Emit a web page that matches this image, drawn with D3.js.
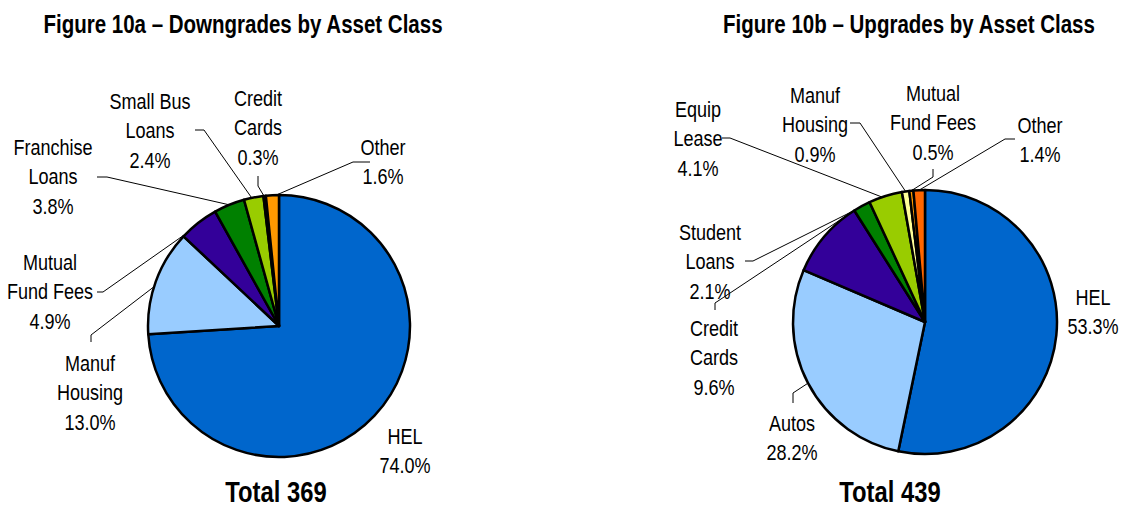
<!DOCTYPE html>
<html>
<head>
<meta charset="utf-8">
<script src="https://cdn.jsdelivr.net/npm/d3@7"></script>
<style>
  body { margin: 0; background: #fff; }
  svg text { font-family: "Liberation Sans", Arial, sans-serif; fill: #000; }
  .title { font-weight: bold; font-size: 25px; }
  .total { font-weight: bold; font-size: 29px; }
  .lbl { font-size: 22px; }
</style>
</head>
<body>
<div id="chart"></div>
<script>
// data
var downCats = ["HEL", "Manuf\nHousing", "Mutual\nFund Fees", "Franchise\nLoans", "Small Bus\nLoans", "Credit\nCards", "Other"];
var downVals = [74.0, 13.0, 4.9, 3.8, 2.4, 0.3, 1.6];
var downColors = ["#0066CC", "#99CCFF", "#330099", "#008000", "#99CC00", "#FFFF99", "#FF9900"];

var upCats = ["HEL", "Autos", "Credit\nCards", "Student\nLoans", "Equip\nLease", "Manuf\nHousing", "Mutual\nFund Fees", "Other"];
var upVals = [53.3, 28.2, 9.6, 2.1, 4.1, 0.9, 0.5, 1.4];
var upColors = ["#0066CC", "#99CCFF", "#330099", "#008000", "#99CC00", "#FFFF99", "#FF9900", "#FF6600"];

var titles = ["Figure 10a \u2013 Downgrades by Asset Class", "Figure 10b \u2013 Upgrades by Asset Class"];
var totals = [369, 439];

// label placement (offsets from the pie centre), leader start + elbow, where on the slice the leader lands
var downLayout = [
  {x: 126, y: 110},
  {x: -189, y: 37, lead: [[-188, 16], [-188, 9]], f: 0.45},
  {x: -229, y: -64, lead: [[-182, -34], [-176, -34]], f: 0.1},
  {x: -226, y: -179, lead: [[-182, -149], [-172, -149]], f: 0.5},
  {x: -129, y: -225, lead: [[-84, -196], [-75, -196]], f: 0.4},
  {x: -21, y: -228, lead: [[-21, -150], [-21, -140]], f: 0.2},
  {x: 104, y: -179, lead: [[91, -164], [74, -164]], f: 0.8}
];
var upLayout = [
  {x: 168, y: -25},
  {x: -133, y: 101, lead: [[-132, 81], [-132, 71]], f: 0.5},
  {x: -211, y: 6, lead: [[-210, -12], [-210, -19]], f: 0.97},
  {x: -215, y: -90, lead: [[-180, -61], [-172, -61]], f: 0.05},
  {x: -227, y: -213, lead: [[-203, -184], [-195, -184]], f: 0.4},
  {x: -110, y: -227, lead: [[-75, -199], [-65, -199]], f: 0.5},
  {x: 8, y: -229, lead: [[8, -153], [8, -145]], f: 0.5},
  {x: 115, y: -197, lead: [[90, -183], [80, -183]], f: 0.5}
];

var width = 1123;
var height = 506;
var lineGap = 29.5;
var narrow = 0.82; // squeeze Liberation Sans to look like the condensed face

var svg = d3.select("#chart")
  .append("svg")
  .attr("width", width)
  .attr("height", height);

svg.append("rect").attr("width", width).attr("height", height).attr("fill", "#fff");

function squeeze(sel) {
  var w = sel.node().getComputedTextLength();
  sel.attr("textLength", w * narrow).attr("lengthAdjust", "spacingAndGlyphs");
  return sel;
}

function drawPie(cx, cy, r, cats, vals, colors, layout, title, titleX, total, totalX) {
  var pie = d3.pie().sort(null).value(function(d) { return d; });
  var arcs = pie(vals);
  var arc = d3.arc().innerRadius(0).outerRadius(r);

  var g = svg.append("g").attr("transform", "translate(" + cx + "," + cy + ")");

  // leaders first so the slices sit on top of their ends
  arcs.forEach(function(a, i) {
    var lay = layout[i];
    if (!lay.lead) return;
    var ang = a.startAngle + (a.endAngle - a.startAngle) * lay.f;
    var tx = r * Math.sin(ang);
    var ty = -r * Math.cos(ang);
    var pts = lay.lead.concat([[tx, ty]]);
    g.append("path")
      .attr("d", d3.line()(pts))
      .attr("fill", "none")
      .attr("stroke", "#000")
      .attr("stroke-width", 1);
  });

  g.selectAll("path.slice")
    .data(arcs)
    .enter()
    .append("path")
    .attr("class", "slice")
    .attr("d", arc)
    .attr("fill", function(d, i) { return colors[i]; })
    .attr("stroke", "#000")
    .attr("stroke-width", 2.5)
    .attr("stroke-linejoin", "round");

  arcs.forEach(function(a, i) {
    var lay = layout[i];
    var lines = cats[i].split("\n").concat([d3.format(".1f")(vals[i]) + "%"]);
    lines.forEach(function(s, k) {
      var t = g.append("text")
        .attr("class", "lbl")
        .attr("text-anchor", "middle")
        .attr("x", lay.x)
        .attr("y", lay.y + k * lineGap)
        .attr("dy", "0.36em")
        .text(s);
      squeeze(t);
    });
  });

  squeeze(svg.append("text")
    .attr("class", "title")
    .attr("x", titleX)
    .attr("y", 33)
    .attr("text-anchor", "middle")
    .text(title));

  squeeze(svg.append("text")
    .attr("class", "total")
    .attr("x", totalX)
    .attr("y", 502)
    .attr("text-anchor", "middle")
    .text("Total " + total));
}

drawPie(279, 326, 131, downCats, downVals, downColors, downLayout, titles[0], 243, totals[0], 276);
drawPie(925, 322, 132, upCats, upVals, upColors, upLayout, titles[1], 909, totals[1], 890);
</script>
</body>
</html>
